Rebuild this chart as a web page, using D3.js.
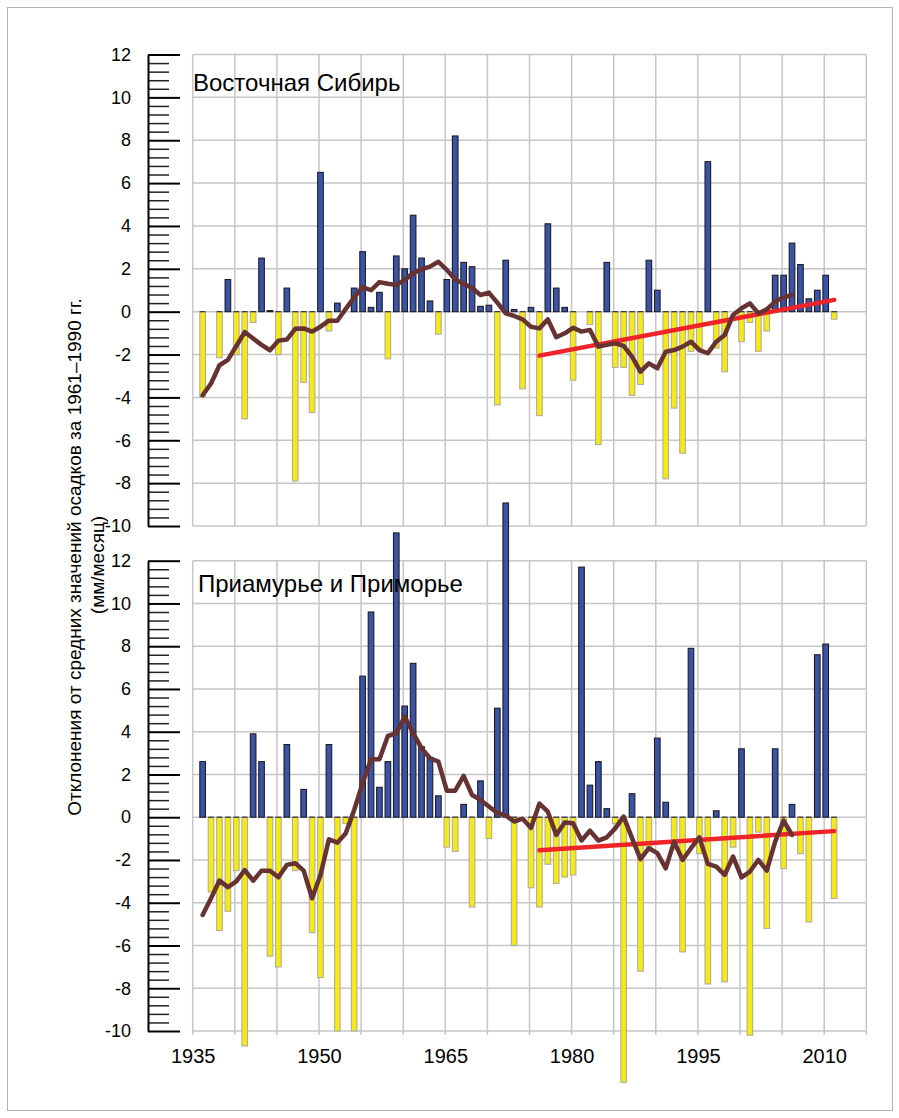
<!DOCTYPE html>
<html>
<head>
<meta charset="utf-8">
<script src="https://cdn.jsdelivr.net/npm/d3@7"></script>
<style>
  body { margin: 0; background: #fff; }
  text { font-family: "Liberation Sans", Arial, sans-serif; fill: #000; }
</style>
</head>
<body>
<script>
// ---- data (mm/month anomalies vs 1961-1990 mean) ----
var firstYear = 1936;
var titles = ["Восточная Сибирь", "Приамурье и Приморье"];
var axisTitle = ["Отклонения от средних значений осадков за 1961–1990 гг.", "(мм/месяц)"];
var labelYears = [1935, 1950, 1965, 1980, 1995, 2010];

// Восточная Сибирь, yearly values 1936-2011
var sibValues = [
  -4.0, 0, -2.15, 1.5, -2.0, -5.0, -0.5, 2.5, 0.05, -2.0,
  1.1, -7.9, -3.3, -4.7, 6.5, -0.9, 0.4, 0, 1.1, 2.8,
  0.2, 0.9, -2.2, 2.6, 2.0, 4.5, 2.5, 0.5, -1.05, 1.5,
  8.2, 2.3, 2.1, 0.25, 0.3, -4.35, 2.4, 0.1, -3.6, 0.2,
  -4.85, 4.1, 1.1, 0.2, -3.2, 0, -0.6, -6.2, 2.3, -2.6,
  -2.6, -3.9, -3.4, 2.4, 1.0, -7.8, -4.5, -6.6, -1.85, -1.8,
  7.0, -1.7, -2.8, 0, -1.4, -0.5, -1.85, -0.9, 1.7, 1.7,
  3.2, 2.2, 0.6, 1.0, 1.7, -0.35
];
// smoothed curve 1936-2006
var sibSmooth = [
  -3.9, -3.35, -2.5, -2.25, -1.6, -0.95, -1.25, -1.55, -1.8, -1.35,
  -1.3, -0.8, -0.78, -0.93, -0.7, -0.42, -0.42, 0.13, 0.67, 1.15,
  1.0, 1.38, 1.3, 1.25, 1.48, 1.8, 1.98, 2.1, 2.33, 1.95,
  1.5, 1.3, 1.1, 0.78, 0.89, 0.42, -0.08, -0.2, -0.36, -0.7,
  -0.78, -0.36, -1.19, -1.01, -0.75, -0.93, -0.85, -1.63, -1.55, -1.48,
  -1.6, -2.1, -2.8, -2.41, -2.64, -1.87, -1.79, -1.63, -1.4, -1.79,
  -1.94, -1.4, -1.09, -0.15, 0.16, 0.39, -0.08, 0.11, 0.47, 0.67,
  0.78
];
var sibTrend = [[1976, -2.05], [2011, 0.55]];

// Приамурье и Приморье, yearly values 1936-2011
var amurValues = [
  2.6, -3.5, -5.3, -4.4, -2.5, -10.7, 3.9, 2.6, -6.5, -7.0,
  3.4, -2.5, 1.3, -5.4, -7.5, 3.4, -10.0, -0.3, -10.0, 6.6,
  9.6, 1.4, 2.6, 13.3, 5.2, 7.2, 3.3, 2.8, 1.0, -1.4,
  -1.6, 0.6, -4.2, 1.7, -1.0, 5.1, 14.7, -6.0, 0, -3.3,
  -4.2, -2.2, -3.1, -2.8, -2.7, 11.7, 1.5, 2.6, 0.4, -0.3,
  -12.4, 1.1, -7.2, -1.4, 3.7, 0.7, -1.5, -6.3, 7.9, -1.7,
  -7.8, 0.3, -7.7, -1.4, 3.2, -10.2, -0.7, -5.2, 3.2, -2.4,
  0.6, -1.7, -4.9, 7.6, 8.1, -3.8
];
var amurSmooth = [
  -4.57, -3.79, -2.96, -3.27, -3.0, -2.47, -2.97, -2.5, -2.5, -2.81,
  -2.23, -2.15, -2.5, -3.79, -2.7, -1.03, -1.19, -0.75, 0.34, 1.59,
  2.71, 2.71, 3.8, 3.93, 4.71, 3.93, 3.23, 2.76, 2.6, 1.24,
  1.24, 1.93, 1.04, 0.81, 0.5, 0.2, 0.08, -0.2, -0.07, -0.5,
  0.64, 0.26, -0.83, -0.25, -0.28, -1.09, -0.63, -1.09, -0.94, -0.52,
  0.03, -0.98, -1.96, -1.45, -1.68, -2.39, -1.14, -2.0, -1.45, -0.94,
  -2.18, -2.31, -2.7, -1.84, -2.81, -2.54, -2.0, -2.5, -1.14, -0.16,
  -0.83
];
var amurTrend = [[1976, -1.55], [2011, -0.65]];

// ---- layout ----
var width = 899, height = 1118;
var barW = 5.6, barShift = 1.5;
var axisX = 148;

var svg = d3.select("body").append("svg")
    .attr("width", width)
    .attr("height", height);

svg.append("rect")
    .attr("x", 7.5).attr("y", 7.5)
    .attr("width", 885).attr("height", 1103)
    .attr("fill", "none")
    .attr("stroke", "#b4b4b4");

var x = d3.scaleLinear()
    .domain([1935, 2015])
    .range([192.7, 866.3]);

var panels = [
  {title: titles[0], values: sibValues, smooth: sibSmooth, trend: sibTrend,
   top: 54.5, bottom: 526, titleX: 193, titleY: 91},
  {title: titles[1], values: amurValues, smooth: amurSmooth, trend: amurTrend,
   top: 560.7, bottom: 1031, titleX: 198, titleY: 592}
];

function toPoints(arr) {
  return arr.map(function(v, i) { return {year: firstYear + i, value: v}; });
}

panels.forEach(function(p, pi) {
  var y = d3.scaleLinear().domain([-10, 12]).range([p.bottom, p.top]);
  var g = svg.append("g");

  // grid
  g.append("g").selectAll("line")
    .data(d3.range(-10, 13, 2))
    .enter().append("line")
      .attr("x1", x(1935)).attr("x2", x(2015))
      .attr("y1", function(d) { return y(d); })
      .attr("y2", function(d) { return y(d); })
      .attr("stroke", "#c6c6c6")
      .attr("stroke-width", 1.5);

  g.append("g").selectAll("line")
    .data(d3.range(1935, 2016, 5))
    .enter().append("line")
      .attr("x1", function(d) { return x(d); })
      .attr("x2", function(d) { return x(d); })
      .attr("y1", y(12)).attr("y2", y(-10) + (pi === 1 ? 4 : 0))
      .attr("stroke", "#c6c6c6")
      .attr("stroke-width", 1.5);

  // ruler-like axis on the left
  var majors = d3.range(-10, 13, 2);
  var minors = d3.range(-10, 12.01, 0.4).filter(function(d) {
    return Math.abs(d / 2 - Math.round(d / 2)) > 0.01;
  });

  g.append("g")
      .attr("transform", "translate(" + axisX + ",0)")
      .call(d3.axisRight(y).tickValues(minors).tickSize(21).tickSizeOuter(0).tickFormat(""))
      .call(function(a) {
        a.select(".domain").remove();
        a.selectAll("line").attr("stroke", "#222").attr("stroke-width", 1.5);
      });

  g.append("g")
      .attr("transform", "translate(" + axisX + ",0)")
      .call(d3.axisRight(y).tickValues(majors).tickSize(32).tickSizeOuter(0).tickFormat(""))
      .call(function(a) {
        a.select(".domain").attr("stroke", "#000").attr("stroke-width", 2);
        a.selectAll("line").attr("stroke", "#000").attr("stroke-width", 2);
      });

  g.append("g")
      .attr("transform", "translate(" + axisX + ",0)")
      .call(d3.axisLeft(y).tickValues(majors).tickSize(0).tickPadding(17)
        .tickFormat(function(d) { return String(d); }))
      .call(function(a) {
        a.select(".domain").remove();
        a.selectAll("text").attr("font-size", 18)
          .style("font-family", "'Liberation Sans', Arial, sans-serif");
      });

  // bars
  var pts = toPoints(p.values).filter(function(d) { return d.value !== 0; });
  g.append("g").selectAll("rect")
    .data(pts)
    .enter().append("rect")
      .attr("x", function(d) { return x(d.year) + barShift - barW / 2; })
      .attr("y", function(d) { return y(Math.max(0, d.value)); })
      .attr("width", barW)
      .attr("height", function(d) { return Math.abs(y(d.value) - y(0)); })
      .attr("fill", function(d) { return d.value > 0 ? "#3a53a4" : "#f6ea16"; })
      .attr("stroke", function(d) { return d.value > 0 ? "#1c1c28" : "#b0ada0"; })
      .attr("stroke-width", 1.1);

  // dark edge on the zero side of negative bars
  g.append("g").selectAll("line")
    .data(pts.filter(function(d) { return d.value < 0; }))
    .enter().append("line")
      .attr("x1", function(d) { return x(d.year) + barShift - barW / 2; })
      .attr("x2", function(d) { return x(d.year) + barShift + barW / 2; })
      .attr("y1", y(0)).attr("y2", y(0))
      .attr("stroke", "#333")
      .attr("stroke-width", 1.2);

  // linear trend
  var line = d3.line()
      .x(function(d) { return x(d.year) + barShift; })
      .y(function(d) { return y(d.value); });

  g.append("path")
      .datum(p.trend.map(function(d) { return {year: d[0], value: d[1]}; }))
      .attr("d", line)
      .attr("fill", "none")
      .attr("stroke", "#ee2428")
      .attr("stroke-width", 4.5)
      .attr("stroke-linecap", "round");

  // smoothed curve
  g.append("path")
      .datum(toPoints(p.smooth))
      .attr("d", line)
      .attr("fill", "none")
      .attr("stroke", "#663232")
      .attr("stroke-width", 4.5)
      .attr("stroke-linejoin", "round")
      .attr("stroke-linecap", "round");

  g.append("text")
      .attr("x", p.titleX)
      .attr("y", p.titleY)
      .attr("font-size", 24)
      .text(p.title);

  if (pi === 1) {
    g.append("g")
        .attr("transform", "translate(0," + y(-10) + ")")
        .call(d3.axisBottom(x).tickValues(labelYears).tickSize(0).tickPadding(18)
          .tickFormat(d3.format("d")))
        .call(function(a) {
          a.select(".domain").remove();
          a.selectAll("text").attr("font-size", 20)
            .style("font-family", "'Liberation Sans', Arial, sans-serif");
        });
  }
});

// y axis title
svg.append("text")
    .attr("transform", "translate(81,557) rotate(-90)")
    .attr("text-anchor", "middle")
    .attr("font-size", 19)
    .text(axisTitle[0]);

svg.append("text")
    .attr("transform", "translate(104,565) rotate(-90)")
    .attr("text-anchor", "middle")
    .attr("font-size", 19)
    .text(axisTitle[1]);
</script>
</body>
</html>
